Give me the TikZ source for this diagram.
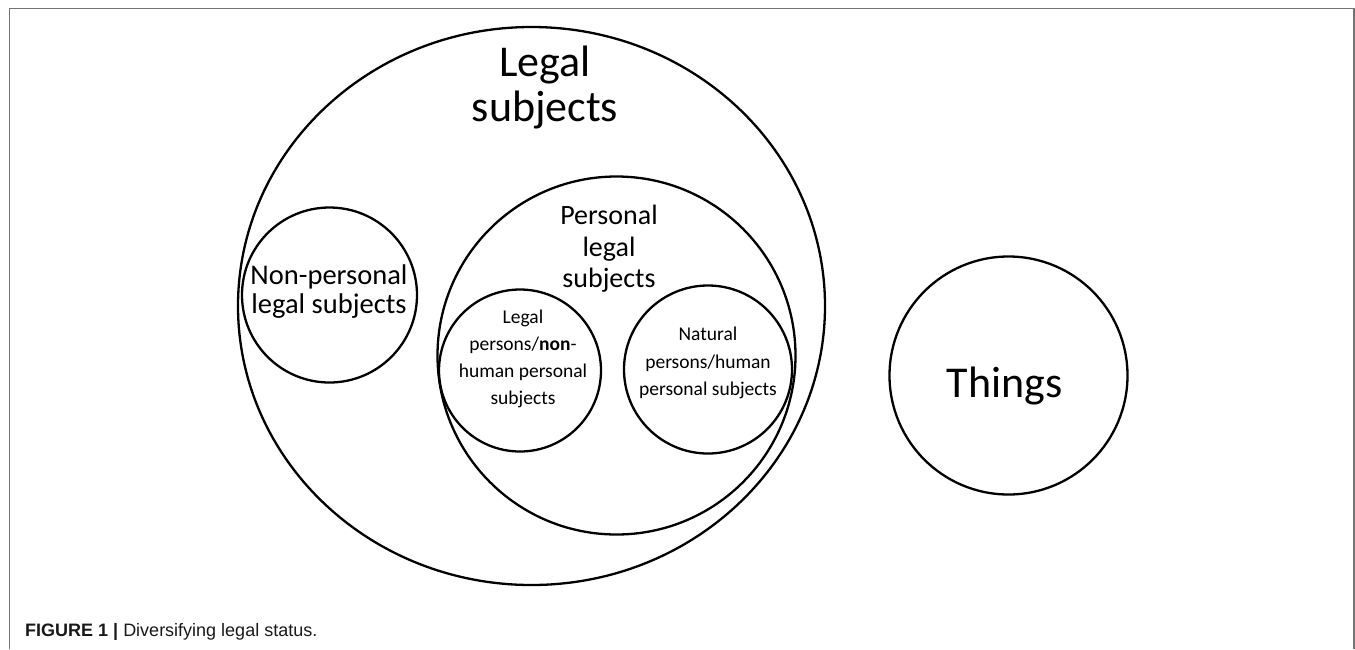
\documentclass[tikz,border=0pt]{standalone}
\usepackage{fontspec}
\setmainfont{Carlito}
\newfontfamily\capfont{Liberation Sans}
\usetikzlibrary{shapes.geometric}

\tikzset{
  set/.style={draw=black, line width=2.3pt, inner sep=0pt},
  roundset/.style={set, circle},
  label text/.style={align=center, inner sep=0pt, text=black},
  frame line/.style={draw=black!55, line width=1.6pt}
}

\begin{document}
\begin{tikzpicture}[x=1pt, y=1pt]
  \useasboundingbox (0,0) rectangle (1355,-649);

  % open frame: left, top and right edges
  \coordinate (fbl) at (9.5,-649);
  \coordinate (ftl) at (9.5,-8.5);
  \coordinate (ftr) at (1354,-8.5);
  \coordinate (fbr) at (1354,-649);
  \draw[frame line] (fbl) -- (ftl) -- (ftr) -- (fbr);

  % sets
  \node[set, ellipse, minimum width=587pt, minimum height=558pt] (legal) at (531.5,-306) {};
  \node[roundset, minimum size=175pt] (nonpersonal) at (329.5,-295) {};
  \node[roundset, minimum size=358pt] (personal) at (616.5,-355.5) {};
  \node[roundset, minimum size=162pt] (legalpersons) at (520,-370.5) {};
  \node[roundset, minimum size=168pt] (natural) at (708,-369.5) {};
  \node[roundset, minimum size=238pt] (things) at (1008.5,-375.5) {};

  % labels
  \node[label text, font=\fontsize{44}{45}\selectfont] (legalT) at (545,-87) {Legal\\subjects};
  \node[label text, font=\fontsize{28.5}{29}\selectfont] (nonpersonalT) at (329,-292) {Non-personal\\legal subjects};
  \node[label text, font=\fontsize{28}{31.5}\selectfont] (personalT) at (609,-249) {Personal\\legal\\subjects};
  \node[label text, font=\fontsize{19.5}{27}\selectfont] (legalpersonsT) at (523,-359) {Legal\\persons/\textbf{non}-\\human personal\\subjects};
  \node[label text, font=\fontsize{19.5}{27.5}\selectfont] (naturalT) at (708,-363) {Natural\\persons/human\\personal subjects};
  \node[label text, font=\fontsize{44}{45}\selectfont] (thingsT) at (1004.5,-386) {Things};

  % caption
  \node[anchor=base west, inner sep=0pt, font=\capfont\fontsize{18}{20}\selectfont, text=black!90]
    (caption) at (25,-636) {\textbf{FIGURE 1 |} Diversifying legal status.};
\end{tikzpicture}
\end{document}
